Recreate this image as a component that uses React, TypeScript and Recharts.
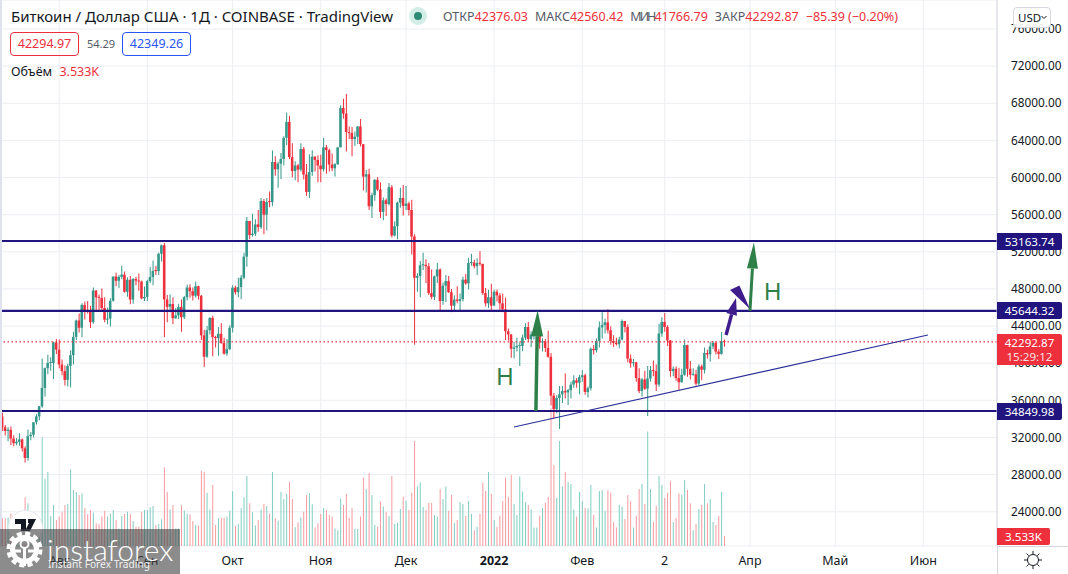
import React from 'react';
import {
    ComposedChart,
    Bar,
    Cell,
    XAxis,
    YAxis,
    CartesianGrid,
    ReferenceLine,
    ReferenceDot,
} from 'recharts';

// BTC/USD daily candles, index 0 is 12 Jul 2021, last is 23 Mar 2022
const firstOpen = 34260;
const closes = [
    33100, 32700, 32820, 31880, 31390, 31530, 31790, 30830, 29790, 32140, 32290, 33640, 34270, 35350, 37330, 39460, 40020, 40020, 42230, 41460,
    39860, 39150, 38200, 39720, 40870, 42830, 44600, 43820, 46280, 45600, 45550, 44420, 47830, 47100, 47040, 45940, 44690, 44800, 46720, 49340,
    48880, 49300, 49540, 47700, 48980, 46850, 49070, 48900, 48800, 46980, 47140,
    48840, 49280, 49940, 49920, 51790, 52700, 46870, 46070, 46380, 44850, 45150, 46050, 44950, 47110, 48150, 47750, 47280, 48300, 47260, 43000,
    40700, 43550, 44880, 42830, 42700, 43170, 42170, 41030, 41520, 43820,
    48140, 47650, 48200, 49220, 51480, 55330, 53800, 53950, 54950, 54660, 57470, 56000, 57370, 57350, 61670, 60880, 61500, 62000, 64280, 65990,
    62200, 60700, 61300, 60850, 63080, 60330, 58450, 60600, 62250, 61900, 61300,
    60900, 63250, 62950, 61400, 61000, 61450, 63250, 67500, 66900, 64900, 64800, 64150, 64400, 65500, 63600, 60100, 60350, 56900, 58100, 59750,
    58700, 56300, 57550, 57150, 58950, 53750, 54750, 57300, 57800, 56950,
    57200, 56500, 53650, 49200, 49400, 50550, 50600, 50450, 47550, 47150, 49350, 50100, 46700, 48350, 48850, 47650, 46200, 46850, 46700, 46900,
    49000, 48600, 50800, 50850, 50450, 50800, 50700, 47550, 46450, 47100, 46200,
    47700, 47300, 46450, 45800, 43450, 43100, 41550, 41700, 41850, 41850, 42750, 43900, 42600, 43100, 43100, 43100, 42250, 42350, 41650, 40700,
    36500, 35050, 36250, 36650, 37000, 36850, 37100, 37700, 38150, 37900, 38500,
    38700, 36900, 37300, 41550, 41400, 42400, 43850, 44100, 44400, 43550, 42400, 42200, 42050, 42550, 44550, 43900, 40500, 40000, 40100, 38400,
    37000, 38250, 37250, 38350, 39250, 39150, 37700, 43200,
    44450, 43900, 42450, 39150, 39400, 38400, 37950, 38750, 41950, 39400, 38750, 38800, 37800, 39650, 39300, 41100, 40950, 41800, 42200, 41250,
    41000, 42376, 42292.87,
];
const highs = [
    34670, 33340, 33100, 33180, 32250, 31950, 32450, 31900, 31050, 32850, 32600, 33650, 34500, 35400, 40500, 39540, 40900, 40640, 42320, 42600,
    42550, 40400, 39750, 39950, 41400, 43400, 44700, 45350, 46450, 46650, 46700, 46200, 48150, 47850, 47400, 48050, 47100, 46000, 47000, 49350,
    49750, 49500, 50500, 49870, 49250, 49400, 49170, 49300, 49650, 48900, 48250,
    49000, 50350, 51050, 50500, 51900, 52800, 52950, 47350, 47400, 47100, 45950, 46400, 46850, 47250, 48450, 48500, 48150, 48800, 48350, 47350,
    43600, 44000, 44950, 45100, 42950, 43900, 44300, 42750, 42600, 44100,
    48400, 48350, 49200, 49500, 51900, 55750, 55300, 56100, 55500, 56500, 57800, 57700, 57800, 58500, 62900, 62300, 61700, 62650, 64450, 67000,
    66650, 63700, 61750, 61450, 63700, 63300, 61450, 62500, 62950, 62300, 62400,
    62450, 64250, 63500, 63100, 62600, 61550, 63250, 67800, 68500, 69000, 65500, 65450, 64950, 65550, 66300, 63500, 60800, 60950, 58350, 59850,
    60050, 59500, 57850, 57750, 59400, 59200, 55300, 57400, 58900, 59200,
    59100, 57400, 57600, 53900, 49700, 51000, 51900, 51200, 50800, 50100, 49450, 50800, 50200, 48700, 49500, 49400, 48000, 47300, 48300, 47500,
    49300, 49600, 51350, 51800, 51150, 51300, 52050, 50700, 48100, 47900, 48550,
    47900, 47950, 47550, 47500, 47050, 43750, 43150, 42300, 42750, 42250, 43100, 44300, 44450, 43450, 43800, 43500, 43200, 42700, 42600, 43500,
    41100, 36800, 36550, 37550, 37550, 38900, 37250, 38000, 38700, 38400, 38750,
    39250, 38850, 37500, 41700, 41950, 42650, 44500, 45500, 44800, 45800, 43950, 43000, 42750, 42850, 44700, 44550, 44200, 40950, 40450, 40150,
    39450, 38400, 39200, 39700, 39700, 40300, 39850, 44250,
    44950, 45400, 44100, 42500, 39650, 39650, 39500, 39400, 42550, 42000, 40250, 39450, 39300, 39900, 39850, 41700, 41450, 42300, 42400, 42300,
    41500, 43350, 42560.42,
];
const lows = [
    32700, 32200, 31600, 31200, 31050, 31170, 31100, 30500, 29300, 29500, 31700, 32000, 33400, 33850, 35200, 36400, 38800, 39200, 38300, 41000,
    39450, 38700, 37600, 37500, 37400, 39850, 42500, 43300, 42800, 44700, 45350, 43800, 44250, 45700, 45550, 45700, 44400, 44200, 43950, 46650,
    48300, 48100, 49050, 47600, 47150, 46350, 46400, 48400, 47800, 46900, 46700,
    46700, 48650, 48400, 49500, 49500, 50950, 42800, 44400, 45500, 44200, 44750, 44750, 43400, 44750, 46750, 47050, 46750, 47050, 46850, 42500,
    39600, 40580, 43100, 40750, 41700, 40800, 42100, 40900, 40800, 41400,
    43300, 47400, 47100, 46900, 49050, 50400, 53350, 53650, 53700, 54150, 54450, 53900, 54300, 56800, 56900, 60200, 58900, 59850, 61300, 63500,
    62000, 60000, 59700, 59500, 60650, 59800, 58000, 57800, 60200, 60650, 59500,
    59500, 60650, 60400, 60650, 60700, 60100, 61350, 63250, 66350, 62800, 64150, 62300, 63400, 63600, 63350, 58600, 58400, 56500, 55650, 57500,
    58550, 55650, 55400, 55850, 57000, 53550, 53650, 53350, 56750, 55900,
    56500, 55900, 51700, 42000, 47700, 47100, 50050, 48650, 47350, 46900, 46800, 48650, 45700, 46300, 46600, 47550, 45500, 45550, 46450, 45550,
    46650, 48450, 47950, 50500, 50200, 49500, 50500, 47350, 46100, 45950, 45700,
    46250, 46650, 45700, 45500, 42500, 42450, 40600, 40500, 41250, 39700, 41300, 42500, 42300, 41750, 42550, 42700, 41550, 41250, 41200, 40600,
    35450, 34050, 34600, 32900, 35700, 36200, 35500, 36200, 37350, 37350, 36650,
    38000, 36600, 36300, 37050, 40950, 41150, 41700, 42650, 43200, 43200, 42000, 41750, 41900, 41600, 42450, 43300, 40100, 39500, 39650, 38000,
    36800, 36400, 37100, 34300, 38000, 38600, 37000, 37450,
    42850, 43400, 41850, 38550, 38600, 38100, 37150, 37900, 38650, 38550, 38250, 38650, 37600, 37600, 38150, 38900, 40500, 40150, 41500, 40950,
    40450, 40900, 41766.79,
];
// volume in thousands of BTC
const volumes = [
    9.8, 9.8, 10.1, 11.5, 8, 7.4, 8.6, 10.9, 17.2, 15.1, 8.6, 6.8, 6.8, 6.2, 38.4, 23.7, 26.1, 10.6, 14.5, 9.2,
    10.4, 12.1, 14.5, 14.8, 27.1, 19.8, 19.1, 18, 18.6, 13.3, 11.2, 12.7, 11.8, 8, 7.8, 10.4, 12.4, 10.4, 11.5, 12.7,
    9.2, 6.2, 10.6, 11.3, 12.1, 11.3, 8.8, 6.8, 6.8, 12.1, 12.7, 12.7, 13.7, 14.1, 7.4, 7.8, 9.4, 27.8, 19.1, 12.9,
    14.5, 6.2, 6.2, 14.5, 12.5, 11.5, 11.2, 8.8, 7.4, 7.2, 26.5, 26.1, 18.8, 12.9, 21.5, 7.4, 9.8, 10, 10.1, 10.4,
    12.5, 19.4, 7.1, 7.8, 13.3, 17.2, 24.7, 15.1, 11.9, 7.2, 9.2, 12.9, 14.8, 14.1, 11.5, 26.1, 9.8, 8.9, 19.1, 16.6,
    18.4, 22.7, 16.6, 6.6, 8.4, 10.1, 12.1, 18, 18.6, 14.7, 6.5, 8, 11.3, 13.4, 12.7, 10.9, 10.4, 6.2, 5.6, 16.8,
    14.5, 18.4, 9.9, 13.4, 6, 6, 10.4, 24.1, 20.1, 25.8, 18, 7.4, 6.8, 15.7, 13.9, 12.1, 10.6, 24.7, 7.8, 8.2,
    13.1, 17.4, 16, 12.7, 18.8, 37.1, 21, 22.4, 13.8, 12.7, 15.3, 15.3, 10.9, 10.4, 20.1, 16.6, 21, 12.4, 18, 8,
    9.2, 15.5, 14.8, 10.6, 15.9, 11.3, 5.6, 6.8, 11.3, 22.4, 19.4, 26.1, 18.4, 9.2, 6.8, 10.7, 15.9, 24.1, 17.4, 25.1,
    14.8, 10.9, 24.5, 19.2, 15.5, 14.5, 12.9, 6.5, 6.5, 10.7, 13.4, 15.3, 17.4, 48.6, 28.6, 16.9, 37.1, 21, 26.1, 22.6,
    21.9, 12.9, 10.4, 19.1, 16, 13.4, 13.2, 21.5, 10.9, 6.5, 19.4, 19.8, 12.4, 19.7, 18.8, 8.4, 6.5, 14.5, 13.9, 9.5,
    18, 15.8, 6.5, 10.7, 20.1, 21.9, 14.8, 40.4, 20.1, 8.5, 14.2, 24.7, 21.5, 16.9, 18.8, 23, 8.5, 9.9, 18.6, 18.2,
    23.3, 19.8, 15.1, 5.6, 7.8, 13.1, 14.5, 21.9, 15.1, 16.6, 8.5, 7.4, 10.6, 19.1, 3.533,
];

const priceTicks = [24000, 28000, 32000, 36000, 40000, 44000, 48000, 52000, 56000, 60000, 64000, 68000, 72000, 76000];
const monthTicks = [20, 51, 81, 112, 142, 173, 204, 233, 263, 293, 324];
const monthLabels = ['Авг', 'Сен', 'Окт', 'Ноя', 'Дек', '2022', 'Фев', '2', 'Апр', 'Май', 'Июн'];

const levels = [53163.74, 45644.32, 34849.98];
const lastPrice = 42292.87;

const UP = '#33978a';
const DOWN = '#ee2f3c';
const UP_VOL = '#7fcdc1';
const DOWN_VOL = '#f79a9f';
const NAVY = '#21147f';
const GREEN_ARROW = '#2f8048';
const PURPLE_ARROW = '#3f1d8c';
const FONT = '"Noto Sans", sans-serif';

const candles = closes.map((close, i) => {
    const open = i === 0 ? firstOpen : closes[i - 1];
    return {
        day: i,
        wick: [lows[i], highs[i]],
        body: [Math.min(open, close), Math.max(open, close)],
        volume: volumes[i],
        up: close >= open,
    };
});

const MonthTick = ({ x, index }: any) => {
    const label = monthLabels[index];
    return (
        <text x={x} y={565} textAnchor="middle" fontSize={12.5} fontFamily={FONT} fontWeight={label === '2022' ? 700 : 400} fill="#131722">
            {label}
        </text>
    );
};

// line with a triangular head, endpoints come from the reference line's scales
const arrowShape = (color: string, shaft: number, headWidth: number, headLength: number) => (props: any) => {
    const { x1, y1, x2, y2 } = props;
    const len = Math.hypot(x2 - x1, y2 - y1);
    const ux = (x2 - x1) / len;
    const uy = (y2 - y1) / len;
    const bx = x2 - ux * headLength;
    const by = y2 - uy * headLength;
    const px = (-uy * headWidth) / 2;
    const py = (ux * headWidth) / 2;
    return (
        <g>
            <line x1={x1} y1={y1} x2={bx} y2={by} stroke={color} strokeWidth={shaft} />
            <polygon points={`${x2},${y2} ${bx + px},${by + py} ${bx - px},${by - py}`} fill={color} />
        </g>
    );
};

// the purple arrow's upper head is hand drawn and lopsided: base is the segment, apex is offset from it
const lopsidedHead = (color: string, along: number, rise: number) => (props: any) => {
    const { x1, y1, x2, y2 } = props;
    const len = Math.hypot(x2 - x1, y2 - y1);
    const ax = x1 + (x2 - x1) * along + ((y2 - y1) / len) * rise;
    const ay = y1 + (y2 - y1) * along - ((x2 - x1) / len) * rise;
    return <polygon points={`${x1},${y1} ${x2},${y2} ${ax},${ay}`} fill={color} />;
};

const Badge = ({ top, height = 17, width = 65, bg, children }: any) => (
    <div
        style={{
            position: 'absolute',
            left: 997,
            top,
            width,
            height,
            background: bg,
            color: '#fff',
            fontSize: 11.6,
            lineHeight: '17px',
            textAlign: 'center',
            borderRadius: '0 2px 2px 0',
        }}
    >
        {children}
    </div>
);

const OhlcItem = ({ name, value, squeeze = 0 }: { name: string; value: string; squeeze?: number }) => (
    <>
        <span style={{ color: '#555a66', letterSpacing: -squeeze }}>{name}</span>
        <span style={{ color: DOWN, marginRight: 7 }}>{value}</span>
    </>
);

export default function App() {
    return (
        <div style={{ position: 'absolute', left: 0, top: 0, width: 1068, height: 574, overflow: 'hidden', background: '#fff', fontFamily: FONT }}>
            <ComposedChart width={1068} height={574} data={candles} margin={{ top: 0, right: 0, bottom: 0, left: 0 }}>
                <CartesianGrid xAxisId="days" yAxisId="price" stroke="#eceef3" strokeWidth={1} />
                <XAxis
                    xAxisId="days"
                    type="number"
                    dataKey="day"
                    domain={[-0.81, 349.9]}
                    allowDataOverflow
                    ticks={monthTicks}
                    interval={0}
                    height={28}
                    tickLine={false}
                    axisLine={{ stroke: '#d6d8e0' }}
                    tick={<MonthTick />}
                />
                <XAxis xAxisId="bodies" type="number" dataKey="day" domain={[-0.81, 349.9]} allowDataOverflow hide />
                <XAxis xAxisId="vols" type="number" dataKey="day" domain={[-0.81, 349.9]} allowDataOverflow hide />
                <YAxis
                    yAxisId="price"
                    orientation="right"
                    width={71}
                    domain={[20308, 79125]}
                    allowDataOverflow
                    ticks={priceTicks}
                    interval={0}
                    tickLine={false}
                    tickMargin={8}
                    axisLine={{ stroke: '#d6d8e0' }}
                    tick={{ fontSize: 11.8, fontFamily: FONT, fill: '#131722' }}
                    tickFormatter={(v: number) => v.toFixed(2)}
                />
                <YAxis yAxisId="vol" hide domain={[0, 192.7]} allowDataOverflow />

                <Bar xAxisId="vols" yAxisId="vol" dataKey="volume" barSize={1} isAnimationActive={false}>
                    {candles.map((c) => (
                        <Cell key={c.day} fill={c.up ? UP_VOL : DOWN_VOL} />
                    ))}
                </Bar>
                <Bar xAxisId="days" yAxisId="price" dataKey="wick" barSize={1} isAnimationActive={false}>
                    {candles.map((c) => (
                        <Cell key={c.day} fill={c.up ? UP : DOWN} />
                    ))}
                </Bar>
                <Bar xAxisId="bodies" yAxisId="price" dataKey="body" barSize={3} minPointSize={1} isAnimationActive={false}>
                    {candles.map((c) => (
                        <Cell key={c.day} fill={c.up ? UP : DOWN} />
                    ))}
                </Bar>

                <ReferenceLine xAxisId="days" yAxisId="price" y={lastPrice} stroke={DOWN} strokeWidth={1.2} strokeDasharray="1.5 2.5" />
                {levels.map((level) => (
                    <ReferenceLine key={level} xAxisId="days" yAxisId="price" y={level} stroke={NAVY} strokeWidth={2.2} />
                ))}
                <ReferenceLine
                    xAxisId="days"
                    yAxisId="price"
                    segment={[
                        { x: 180, y: 33127 },
                        { x: 325.6, y: 43038 },
                    ]}
                    stroke="#2a2f9a"
                    strokeWidth={1.2}
                />
                <ReferenceLine
                    xAxisId="days"
                    yAxisId="price"
                    segment={[
                        { x: 187.7, y: 34850 },
                        { x: 188.3, y: 45700 },
                    ]}
                    shape={arrowShape(GREEN_ARROW, 3.5, 12, 26)}
                />
                <ReferenceLine
                    xAxisId="days"
                    yAxisId="price"
                    segment={[
                        { x: 263, y: 45644 },
                        { x: 264.4, y: 53000 },
                    ]}
                    shape={arrowShape(GREEN_ARROW, 3, 11, 26)}
                />
                <ReferenceLine
                    xAxisId="days"
                    yAxisId="price"
                    segment={[
                        { x: 254.6, y: 43038 },
                        { x: 258.1, y: 47023 },
                    ]}
                    shape={arrowShape(PURPLE_ARROW, 3.5, 11, 17)}
                />
                <ReferenceLine
                    xAxisId="days"
                    yAxisId="price"
                    segment={[
                        { x: 256, y: 47885 },
                        { x: 263, y: 45839 },
                    ]}
                    shape={lopsidedHead(PURPLE_ARROW, 0.13, 9.8)}
                />
                <ReferenceDot
                    xAxisId="days"
                    yAxisId="price"
                    x={176.8}
                    y={38621}
                    r={0}
                    label={{ value: 'Н', fontSize: 24, fill: GREEN_ARROW, fontFamily: FONT }}
                />
                <ReferenceDot
                    xAxisId="days"
                    yAxisId="price"
                    x={271}
                    y={47777}
                    r={0}
                    label={{ value: 'Н', fontSize: 24, fill: GREEN_ARROW, fontFamily: FONT }}
                />
            </ComposedChart>

            {/* page frame, axis extensions */}
            <div style={{ position: 'absolute', left: 0, top: 0, width: 2, height: 546, background: '#dfe1ee' }} />
            <div style={{ position: 'absolute', left: 997, top: 546, width: 71, height: 1, background: '#d6d8e0' }} />
            <div style={{ position: 'absolute', left: 997, top: 546, width: 1, height: 28, background: '#d6d8e0' }} />

            {/* header */}
            <div style={{ position: 'absolute', left: 11, top: 5, fontSize: 15, lineHeight: '22px', color: '#131722', whiteSpace: 'nowrap' }}>
                Биткоин / Доллар США · 1Д · COINBASE · TradingView
            </div>
            <div style={{ position: 'absolute', left: 409, top: 7, width: 18, height: 18, borderRadius: 9, background: '#d3ede7' }} />
            <div style={{ position: 'absolute', left: 414, top: 12, width: 8, height: 8, borderRadius: 4, background: '#2e8a73' }} />
            <div style={{ position: 'absolute', left: 443, top: 8, fontSize: 12.5, lineHeight: '18px', whiteSpace: 'nowrap' }}>
                <OhlcItem name="ОТКР" value="42376.03" />
                <OhlcItem name="МАКС" value="42560.42" />
                <OhlcItem name="МИН" value="41766.79" squeeze={2} />
                <OhlcItem name="ЗАКР" value="42292.87" />
                <span style={{ color: DOWN }}>−85.39 (−0.20%)</span>
            </div>
            <div style={{ position: 'absolute', left: 10, top: 32, width: 67, height: 22, border: `1px solid ${DOWN}`, borderRadius: 4, color: DOWN, fontSize: 12.5, lineHeight: '22px', textAlign: 'center' }}>
                42294.97
            </div>
            <div style={{ position: 'absolute', left: 87, top: 35, fontSize: 11, lineHeight: '18px', color: '#555a66' }}>54.29</div>
            <div style={{ position: 'absolute', left: 122, top: 32, width: 67, height: 22, border: '1px solid #2957f5', borderRadius: 4, color: '#2957f5', fontSize: 12.5, lineHeight: '22px', textAlign: 'center' }}>
                42349.26
            </div>
            <div style={{ position: 'absolute', left: 11, top: 63, fontSize: 12.5, lineHeight: '18px', color: '#131722', whiteSpace: 'nowrap' }}>
                Объём <span style={{ color: DOWN, marginLeft: 4 }}>3.533K</span>
            </div>

            {/* price scale badges */}
            <div style={{ position: 'absolute', left: 1013, top: 7, width: 36, height: 19, border: '1px solid #d6d8e0', borderRadius: 4, background: 'rgba(255,255,255,0.9)' }}>
                <span style={{ position: 'absolute', left: 4, top: 0, fontSize: 11.5, lineHeight: '19px', color: '#131722' }}>USD</span>
                <svg style={{ position: 'absolute', left: 27, top: 7 }} width={6} height={5} viewBox="0 0 6 5">
                    <path d="M0.5 1l2.5 2.5L5.5 1" fill="none" stroke="#131722" />
                </svg>
            </div>
            <Badge top={233} bg={NAVY}>53163.74</Badge>
            <Badge top={302} bg={NAVY}>45644.32</Badge>
            <Badge top={334} height={31} bg={DOWN}>
                42292.87
                <div style={{ marginTop: -3, opacity: 0.85 }}>15:29:12</div>
            </Badge>
            <Badge top={403} bg={NAVY}>34849.98</Badge>
            <Badge top={528} width={53} bg={DOWN}>3.533K</Badge>
            <svg style={{ position: 'absolute', left: 1023, top: 550 }} width={20} height={20} viewBox="0 0 20 20">
                <circle cx={10} cy={10} r={5.5} fill="none" stroke="#131722" />
                <path d="M10 1v3M10 16v3M1 10h3M16 10h3M3.6 3.6l2.1 2.1M14.3 14.3l2.1 2.1M3.6 16.4l2.1-2.1M14.3 5.7l2.1-2.1" stroke="#131722" />
            </svg>

            {/* TradingView logo and watermark */}
            <svg style={{ position: 'absolute', left: 8, top: 510 }} width={36} height={36} viewBox="0 0 36 36">
                <circle cx={17.5} cy={17.5} r={17} fill="#fff" stroke="#e6e8ee" />
                <path d="M7 9h11v12h-5v-7H7zM20 9h8l-6 12h-5l4-8h-1z" fill="#131722" />
            </svg>
            <div style={{ position: 'absolute', left: 0, top: 529, width: 180, height: 45, background: 'rgba(70,70,70,0.62)' }} />
            <svg style={{ position: 'absolute', left: 6, top: 531 }} width={37} height={37} viewBox="0 0 37 37">
                <circle cx={18.5} cy={18.5} r={12} fill="none" stroke="#fff" strokeWidth={5} />
                <circle cx={18.5} cy={18.5} r={16} fill="none" stroke="#fff" strokeWidth={4} strokeDasharray="5 3.4" />
                <circle cx={18.5} cy={13} r={4} fill="none" stroke="#fff" strokeWidth={2} />
                <path d="M18.5 17v18M9 20h6M22 20h6" stroke="#fff" strokeWidth={3} />
            </svg>
            <div style={{ position: 'absolute', left: 47, top: 529, fontFamily: 'Lato, sans-serif', fontWeight: 300, fontSize: 30, lineHeight: '40px', color: '#fff', whiteSpace: 'nowrap' }}>
                instaforex
            </div>
            <div style={{ position: 'absolute', left: 48, top: 557, fontSize: 10.2, lineHeight: '15px', color: 'rgba(255,255,255,0.9)', whiteSpace: 'nowrap' }}>
                Instant Forex Trading
            </div>
        </div>
    );
}
